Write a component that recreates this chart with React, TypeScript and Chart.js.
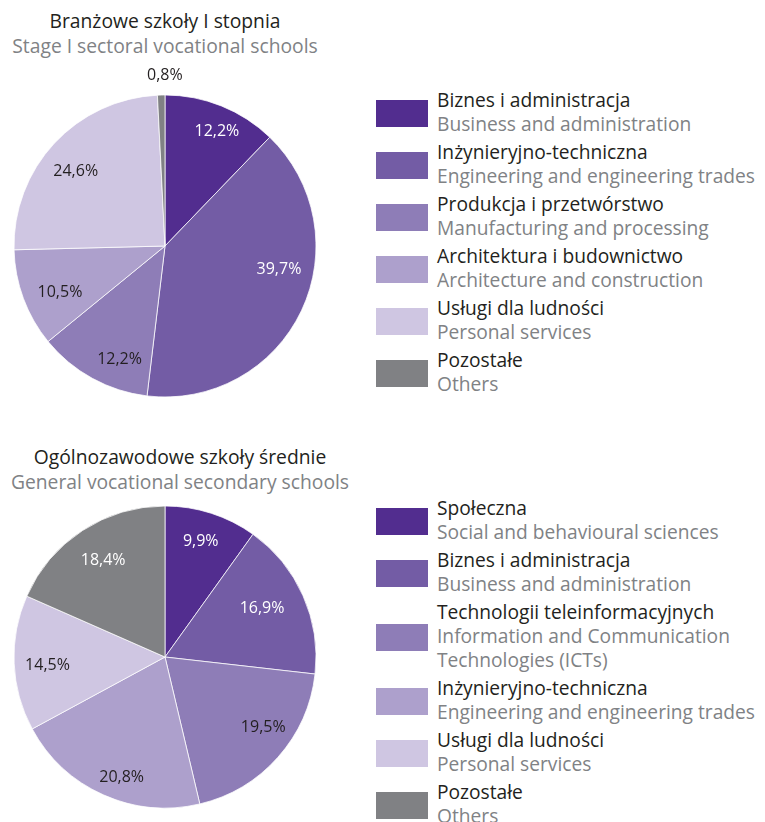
import React, { useEffect, useRef } from "react";
import { Chart, registerables } from "chart.js";

Chart.register(...registerables);

// ---- Data ----
const topTitlePl = "Branżowe szkoły I stopnia";
const topTitleEn = "Stage I sectoral vocational schools";
const topLabelsPl = [
  "Biznes i administracja",
  "Inżynieryjno-techniczna",
  "Produkcja i przetwórstwo",
  "Architektura i budownictwo",
  "Usługi dla ludności",
  "Pozostałe",
];
const topLabelsEn = [
  ["Business and administration"],
  ["Engineering and engineering trades"],
  ["Manufacturing and processing"],
  ["Architecture and construction"],
  ["Personal services"],
  ["Others"],
];
const topValues = [12.2, 39.7, 12.2, 10.5, 24.6, 0.8];

const bottomTitlePl = "Ogólnozawodowe szkoły średnie";
const bottomTitleEn = "General vocational secondary schools";
const bottomLabelsPl = [
  "Społeczna",
  "Biznes i administracja",
  "Technologii teleinformacyjnych",
  "Inżynieryjno-techniczna",
  "Usługi dla ludności",
  "Pozostałe",
];
const bottomLabelsEn = [
  ["Social and behavioural sciences"],
  ["Business and administration"],
  ["Information and Communication", "Technologies (ICTs)"],
  ["Engineering and engineering trades"],
  ["Personal services"],
  ["Others"],
];
const bottomValues = [9.9, 16.9, 19.5, 20.8, 14.5, 18.4];

// ---- Styles ----
const FONT = "'Open Sans', 'Noto Sans', sans-serif";
const DARK = "#231f20";
const GREY_TEXT = "#808285";
const topColors = ["#522d8f", "#735ca5", "#8e7db7", "#ada0cc", "#cfc6e2", "#808184"];
const bottomColors = ["#522d8f", "#735ca5", "#8e7db7", "#ada0cc", "#cfc6e2", "#808184"];
const topLabelColors = ["#ffffff", "#ffffff", DARK, DARK, DARK, DARK];
const bottomLabelColors = ["#ffffff", "#ffffff", DARK, DARK, DARK, "#ffffff"];
const topLabelRadius = [0.83, 0.77, 0.81, 0.76, 0.77, 1.13];
const topLabelShift = [2.5, -14, -7, -3.4, -3, 1.4];
const bottomLabelRadius = [0.8, 0.72, 0.8, 0.85, 0.78, 0.76];
const bottomLabelShift = [-0.6, -2.8, -6, -4.4, -1.7, 0.5];

const fmt = (v: number) => v.toFixed(1).replace(".", ",") + "%";

function PieCanvas(props: {
  values: number[];
  labels: string[];
  colors: string[];
  labelColors: string[];
  labelRadius: number[];
  labelShift: number[];
  left: number;
  top: number;
}) {
  const ref = useRef<HTMLCanvasElement | null>(null);
  useEffect(() => {
    if (!ref.current) return;
    const labelPlugin = {
      id: "sliceLabels",
      afterDatasetsDraw(chart: any) {
        const ctx = chart.ctx;
        const meta = chart.getDatasetMeta(0);
        ctx.save();
        ctx.font = `16px ${FONT}`;
        ctx.textAlign = "center";
        ctx.textBaseline = "middle";
        meta.data.forEach((arc: any, i: number) => {
          const p = arc.getProps(["x", "y", "startAngle", "endAngle", "outerRadius"], true);
          const mid = (p.startAngle + p.endAngle) / 2 + (props.labelShift[i] * Math.PI) / 180;
          const r = p.outerRadius * props.labelRadius[i];
          ctx.fillStyle = props.labelColors[i];
          ctx.fillText(fmt(props.values[i]), p.x + r * Math.cos(mid), p.y + r * Math.sin(mid));
        });
        ctx.restore();
      },
    };
    const chart = new Chart(ref.current, {
      type: "pie",
      data: {
        labels: props.labels,
        datasets: [
          {
            data: props.values,
            backgroundColor: props.colors,
            borderColor: "rgba(255,255,255,0.75)",
            borderWidth: 1,
          },
        ],
      },
      options: {
        responsive: false,
        animation: false,
        radius: 151,
        plugins: { legend: { display: false }, tooltip: { enabled: false } },
        layout: { padding: 0 },
      } as any,
      plugins: [labelPlugin],
    });
    return () => chart.destroy();
  }, []);
  return (
    <canvas
      ref={ref}
      width={360}
      height={360}
      style={{ position: "absolute", left: props.left, top: props.top, width: 360, height: 360 }}
    />
  );
}

function Legend(props: { pl: string[]; en: string[][]; colors: string[]; left: number; top: number }) {
  return (
    <div style={{ position: "absolute", left: props.left, top: props.top, fontFamily: FONT, fontSize: 19.2 }}>
      {props.pl.map((t, i) => (
        <div key={i} style={{ display: "flex", alignItems: "center", marginBottom: 4 }}>
          <div style={{ width: 52, height: 27, background: props.colors[i], flex: "none", marginTop: 2 }} />
          <div style={{ marginLeft: 9, lineHeight: "24px" }}>
            <div style={{ color: DARK, whiteSpace: "nowrap" }}>{t}</div>
            {props.en[i].map((e, j) => (
              <div key={j} style={{ color: GREY_TEXT, whiteSpace: "nowrap" }}>
                {e}
              </div>
            ))}
          </div>
        </div>
      ))}
    </div>
  );
}

function Title(props: { pl: string; en: string; top: number; center: number }) {
  return (
    <div
      style={{
        position: "absolute",
        left: props.center - 200,
        width: 400,
        top: props.top,
        textAlign: "center",
        fontFamily: FONT,
        fontSize: 19.3,
        lineHeight: "25px",
      }}
    >
      <div style={{ color: DARK, whiteSpace: "nowrap" }}>{props.pl}</div>
      <div style={{ color: GREY_TEXT, whiteSpace: "nowrap" }}>{props.en}</div>
    </div>
  );
}

export default function App() {
  return (
    <div
      style={{
        position: "absolute",
        left: 0,
        top: 0,
        width: 765,
        height: 822,
        background: "#ffffff",
        overflow: "hidden",
      }}
    >
      <Title pl={topTitlePl} en={topTitleEn} top={8} center={165} />
      <PieCanvas
        values={topValues}
        labels={topLabelsPl}
        colors={topColors}
        labelColors={topLabelColors}
        labelRadius={topLabelRadius}
        labelShift={topLabelShift}
        left={-15}
        top={66}
      />
      <Legend pl={topLabelsPl} en={topLabelsEn} colors={topColors} left={376} top={88} />
      <Title pl={bottomTitlePl} en={bottomTitleEn} top={444} center={180} />
      <PieCanvas
        values={bottomValues}
        labels={bottomLabelsPl}
        colors={bottomColors}
        labelColors={bottomLabelColors}
        labelRadius={bottomLabelRadius}
        labelShift={bottomLabelShift}
        left={-15}
        top={477}
      />
      <Legend pl={bottomLabelsPl} en={bottomLabelsEn} colors={bottomColors} left={376} top={496} />
    </div>
  );
}
